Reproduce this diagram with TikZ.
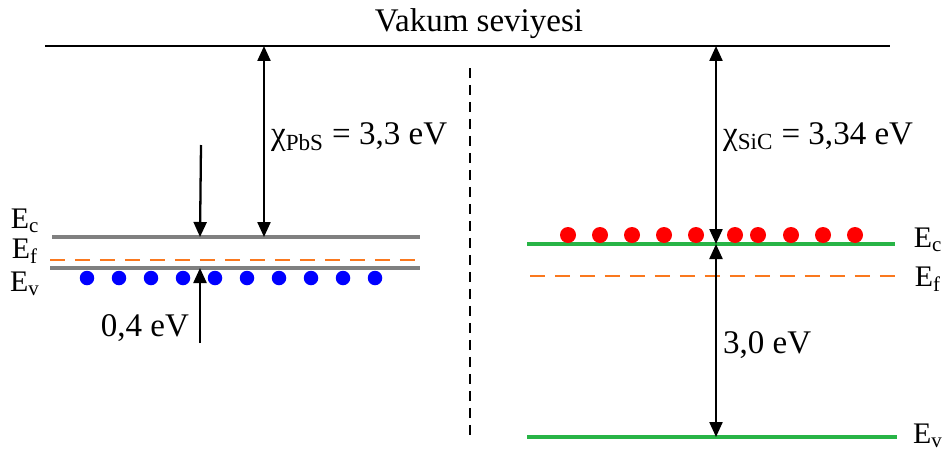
\documentclass[tikz,border=0pt]{standalone}
\usepackage{fontspec}
\setmainfont{Liberation Serif}
\usetikzlibrary{arrows.meta}
\definecolor{levelgray}{RGB}{128,128,128}
\definecolor{levelgreen}{RGB}{40,180,70}
\definecolor{fermiorange}{RGB}{250,120,30}
\begin{document}
\begin{tikzpicture}[x=0.02cm, y=-0.02cm,
    label/.style={font=\fontsize{18.8}{22}\selectfont, inner sep=1pt},
    elabel/.style={font=\fontsize{17}{20}\selectfont, inner sep=1pt},
    vacuum/.style={line width=1.1pt},
    graylevel/.style={levelgray, line width=2.2pt},
    greenlevel/.style={levelgreen, line width=2.2pt},
    fermi/.style={fermiorange, line width=1pt, dash pattern=on 0.3cm off 0.2cm},
    hole/.style={circle, fill=blue, inner sep=0pt, minimum size=0.29cm},
    electron/.style={circle, fill=red, inner sep=0pt, minimum size=0.32cm},
    gap/.style={line width=1.3pt, {Triangle[width=0.26cm,length=0.3cm]}-{Triangle[width=0.26cm,length=0.3cm]}},
    push/.style={line width=1.3pt, -{Triangle[width=0.26cm,length=0.3cm]}}
  ]
  \useasboundingbox (0,0) rectangle (949,450);
  % vacuum level
  \coordinate (vacA) at (45,46);
  \coordinate (vacB) at (890,46);
  \draw[vacuum] (vacA) -- (vacB);
  \node[label] (vac) at (479,24) {Vakum seviyesi};
  % separator
  \coordinate (sepA) at (470,68);
  \coordinate (sepB) at (470,436);
  \draw[line width=1.2pt, dash pattern=on 0.2cm off 0.14cm] (sepA) -- (sepB);
  % PbS side
  \coordinate (pbsEcA) at (52,237);
  \coordinate (pbsEcB) at (420,237);
  \coordinate (pbsEfA) at (50,260);
  \coordinate (pbsEfB) at (420,260);
  \coordinate (pbsEvA) at (50,268);
  \coordinate (pbsEvB) at (420,268);
  \draw[graylevel] (pbsEcA) -- (pbsEcB);
  \draw[fermi] (pbsEfA) -- (pbsEfB);
  \draw[graylevel] (pbsEvA) -- (pbsEvB);
  \foreach \i in {0,...,9}
    \node[hole] (h\i) at (87+32*\i,278) {};
  \node[elabel] (pbsEc) at (25,221) {E\textsubscript{c}};
  \node[elabel] (pbsEf) at (25,251) {E\textsubscript{f}};
  \node[elabel] (pbsEv) at (25,284) {E\textsubscript{v}};
  \coordinate (chiPbsTop) at (264,46);
  \coordinate (chiPbsBot) at (264,237);
  \draw[gap] (chiPbsTop) -- (chiPbsBot);
  \node[label, anchor=west] (chiPbs) at (269,137) {χ\textsubscript{PbS} = 3,3 eV};
  \coordinate (inA) at (201,145);
  \coordinate (inB) at (200,237);
  \draw[push] (inA) -- (inB);
  \coordinate (upA) at (200,343);
  \coordinate (upB) at (200,268);
  \draw[push] (upA) -- (upB);
  \node[label, anchor=east] (offset) at (191,328) {0,4 eV};
  % SiC side
  \coordinate (sicEcA) at (527,244);
  \coordinate (sicEcB) at (895,244);
  \coordinate (sicEfA) at (530,276);
  \coordinate (sicEfB) at (895,276);
  \coordinate (sicEvA) at (527,437);
  \coordinate (sicEvB) at (897,437);
  \draw[greenlevel] (sicEcA) -- (sicEcB);
  \draw[fermi] (sicEfA) -- (sicEfB);
  \draw[greenlevel] (sicEvA) -- (sicEvB);
  \foreach \i/\x in {0/568,1/600,2/632,3/664,4/696,5/735,6/758,7/791,8/823,9/855}
    \node[electron] (e\i) at (\x,235) {};
  \node[elabel] (sicEc) at (928,240) {E\textsubscript{c}};
  \node[elabel] (sicEf) at (928,279) {E\textsubscript{f}};
  \node[elabel] (sicEv) at (928,436) {E\textsubscript{v}};
  \coordinate (chiSicTop) at (716,46);
  \coordinate (chiSicBot) at (716,244);
  \coordinate (bandBot) at (716,437);
  \draw[gap] (chiSicTop) -- (chiSicBot);
  \draw[gap] (chiSicBot) -- (bandBot);
  \node[label, anchor=west] (chiSic) at (721,137) {χ\textsubscript{SiC} = 3,34 eV};
  \node[label, anchor=west] (bandgap) at (721,345) {3,0 eV};
\end{tikzpicture}
\end{document}
